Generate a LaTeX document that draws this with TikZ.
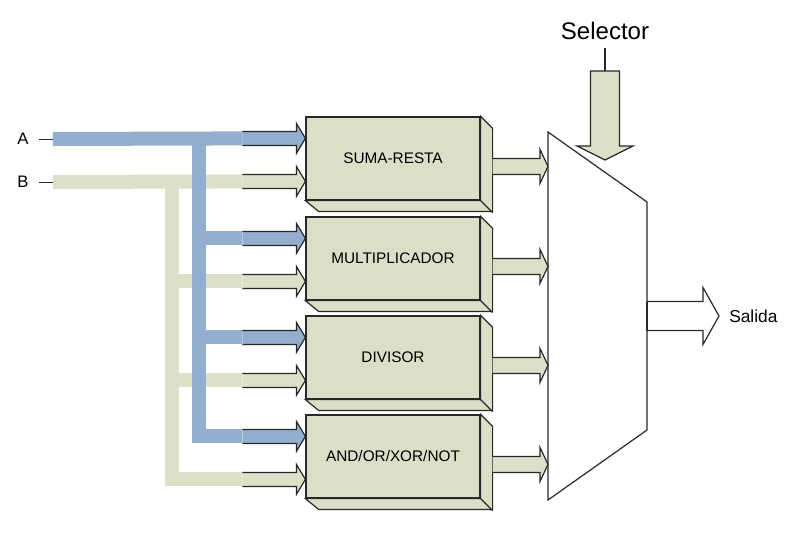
\documentclass[tikz,border=0pt]{standalone}
\usepackage{fontspec}
\setmainfont{Liberation Sans}
\usetikzlibrary{calc}
\definecolor{busblue}{RGB}{148,174,208}
\definecolor{busgreen}{RGB}{221,224,200}
\definecolor{boxfill}{RGB}{220,223,199}
\definecolor{edge}{RGB}{40,40,40}
% block arrow into a box, tip at #2
\newcommand\inarrow[2]{%
  \fill[#1] ($(#2)+(-63,-7)$) -- ++(54,0) -- ++(0,-8) -- (#2) -- ++(-9,15) -- ++(0,-8) -- ++(-54,0) -- cycle;
  \draw[outl] ($(#2)+(-63,-7)$) -- ++(54,0) -- ++(0,-8) -- (#2) -- ++(-9,15) -- ++(0,-8) -- ++(-54,0);}
% block arrow out of a box, from #1 to tip #2
\newcommand\outarrow[2]{%
  \fill[busgreen] ($(#1)+(0,-8)$) -- ($(#2)+(-8,-8)$) -- ++(0,-9) -- (#2) -- ++(-8,17) -- ++(0,-9) -- ($(#1)+(0,8)$) -- cycle;
  \draw[outl] ($(#1)+(0,-8)$) -- ($(#2)+(-8,-8)$) -- ++(0,-9) -- (#2) -- ++(-8,17) -- ++(0,-9) -- ($(#1)+(0,8)$);}

\begin{document}
\begin{tikzpicture}[x=0.75pt,y=-0.75pt,
    blk/.style={draw=edge,fill=boxfill,line width=0.9pt,minimum width=130.5pt,minimum height=62.25pt,inner sep=0pt,font=\fontsize{11.5}{13}\selectfont},
    lbl/.style={inner sep=0pt,font=\fontsize{12.5}{14}\selectfont},
    bus/.style={line width=10.5pt},
    outl/.style={draw=edge,line width=0.9pt}]
\useasboundingbox (0,0) rectangle (811,543);

% operation boxes
\node[blk] (suma) at (393,158.5) {SUMA-RESTA}; % box 1
\node[blk] (mult) at (393,258.5) {MULTIPLICADOR}; % box 2
\node[blk] (divi) at (393,357.5) {DIVISOR}; % box 3
\node[blk] (logi) at (393,456.5) {AND/OR/XOR/NOT}; % box 4
\foreach \b in {suma,mult,divi,logi}{
  \draw[outl,fill=boxfill] (\b.north east) -- ++(12,12) -- ++(0,83) -- ++(-174,0) -- (\b.south west) -- (\b.south east) -- cycle;
  \draw[outl] (\b.south east) -- ++(12,12);
  \coordinate (\b-a) at ($(\b.north west)+(0,22)$);
  \coordinate (\b-b) at ($(\b.north west)+(0,65)$);
  \coordinate (\b-o) at ($(\b.north east)+(12,50)$);
}

% inputs
\node[lbl] (A) at (23,139) {A};
\node[lbl] (B) at (23,182) {B};
\draw[edge,line width=0.7pt] ($(A.east)+(10,0)$) -- ++(14,0) coordinate (a0);
\draw[edge,line width=0.7pt] ($(B.east)+(10,0)$) -- ++(14,0) coordinate (b0);

% bus B
\coordinate (bsplit) at ($(suma-b)+(-133,0)$);
\draw[bus,busgreen] (b0) -- ($(suma-b)+(-63,0)$);
\draw[bus,busgreen] (bsplit) |- ($(logi-b)+(-63,0)$);
\foreach \b in {mult,divi} \draw[bus,busgreen] (bsplit |- \b-b) -- ($(\b-b)+(-63,0)$);

% bus A
\coordinate (asplit) at ($(suma-a)+(-106,0)$);
\draw[bus,busblue] (a0) -- ($(suma-a)+(-63,0)$);
\draw[bus,busblue] (asplit) |- ($(logi-a)+(-63,0)$);
\foreach \b in {mult,divi} \draw[bus,busblue] (asplit |- \b-a) -- ($(\b-a)+(-63,0)$);

\foreach \b in {suma,mult,divi,logi}{\inarrow{busblue}{\b-a}\inarrow{busgreen}{\b-b}}

% multiplexer
\draw[outl,fill=white] (548,132) coordinate (m1) -- (647,202) coordinate (m2) -- (647,430) coordinate (m3) -- (548,500) coordinate (m4) -- cycle;
\foreach \b in {suma,mult,divi,logi}{
  \coordinate (\b-t) at (\b-o -| m1);
  \outarrow{\b-o}{\b-t}}

% selector
\node[inner sep=0pt,anchor=base,font=\fontsize{18}{20}\selectfont] (sel) at (605,39) {Selector};
\coordinate (selt) at (605,71);
\draw[edge,line width=0.9pt] ($(sel.south)+(0,8)$) -- (selt);
\filldraw[outl,fill=busgreen] ($(selt)+(-14.5,0)$) -- ++(0,75) -- ++(-13.5,0) -- ($(selt)+(0,89)$) -- ($(selt)+(28,75)$) -- ++(-13.5,0) -- ($(selt)+(14.5,0)$) -- cycle;

% output
\coordinate (so) at ($(m2)!0.5!(m3)$);
\fill[white] ($(so)+(0,-14.5)$) -- ++(56,0) -- ++(0,-14) -- ($(so)+(72,0)$) -- ($(so)+(56,28.5)$) -- ++(0,-14) -- ($(so)+(0,14.5)$) -- cycle;
\draw[outl] ($(so)+(0,-14.5)$) -- ++(56,0) -- ++(0,-14) -- ($(so)+(72,0)$) -- ($(so)+(56,28.5)$) -- ++(0,-14) -- ($(so)+(0,14.5)$);
\draw[edge,line width=1.8pt] ($(so)+(0,-14.5)$) -- ($(so)+(0,14.5)$);
\node[inner sep=0pt,anchor=west,font=\fontsize{13}{15}\selectfont] (sal) at ($(so)+(82,0)$) {Salida};
\end{tikzpicture}
\end{document}
